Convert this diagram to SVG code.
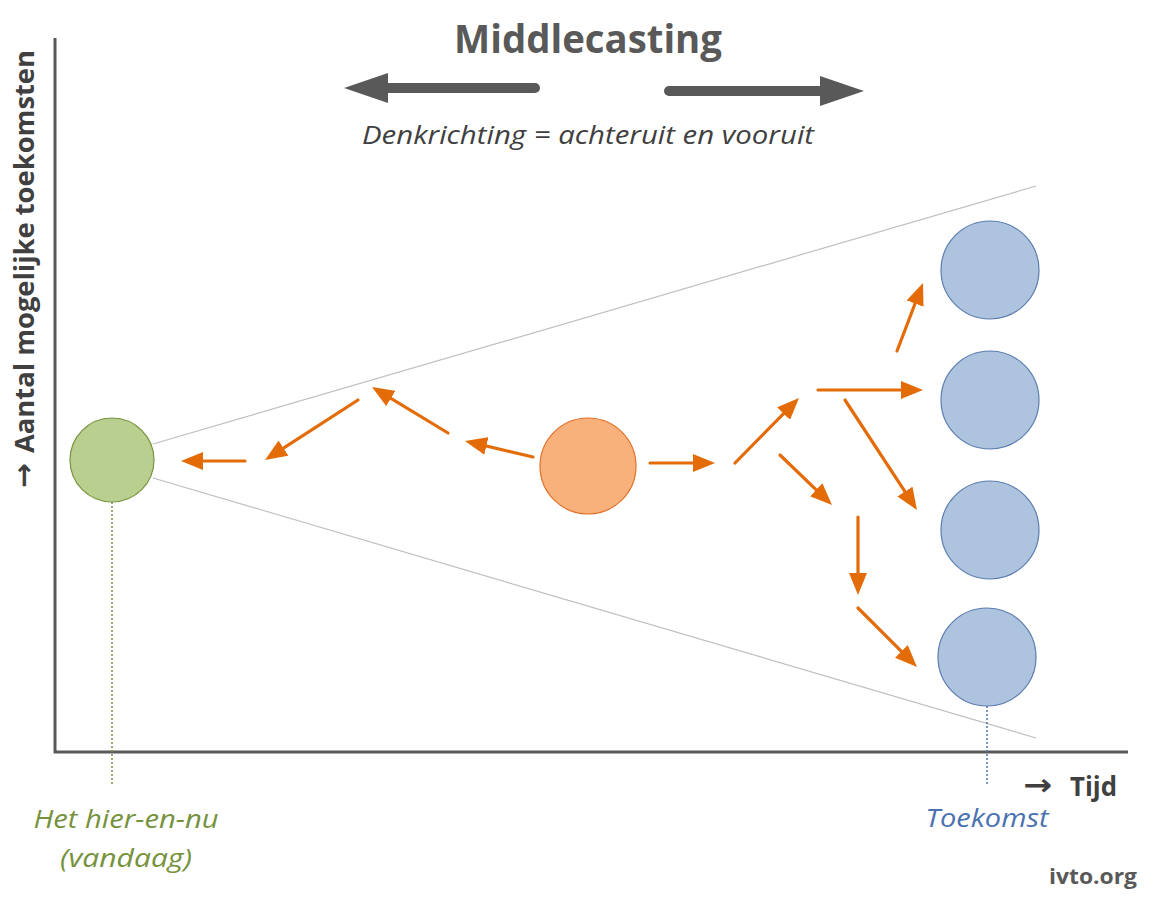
<svg xmlns="http://www.w3.org/2000/svg" width="1153" height="900" viewBox="0 0 1153 900">
  <style>
    .axis { stroke: #595959; stroke-width: 3; fill: none; }
    .cone { stroke: #BFBFBF; stroke-width: 1.2; fill: none; }
    .flow { stroke: #E36C09; stroke-width: 3.2; stroke-linecap: round; fill: none; marker-end: url(#head); }
    .dir { stroke: #595959; stroke-width: 10; stroke-linecap: round; fill: none; }
    .txt { font-family: "Open Sans", "Noto Sans", sans-serif; }
    .arr { font-family: "DejaVu Sans", sans-serif; font-weight: bold; }
    .now { fill: #B9CF8F; stroke: #77933C; stroke-width: 1.2; }
    .mid { fill: #F9B17B; stroke: #E0702A; stroke-width: 1.2; }
    .fut { fill: #AEC3DD; stroke: #5B7DB2; stroke-width: 1.2; }
  </style>
  <defs>
    <marker id="head" markerUnits="userSpaceOnUse" markerWidth="22" markerHeight="18" refX="12" refY="9" orient="auto">
      <path d="M0,0 L22,9 L0,18 z" fill="#E36C09"/>
    </marker>
  </defs>

  <rect width="1153" height="900" fill="#FFFFFF"/>

  <!-- title and thinking direction -->
  <g id="title">
    <text class="txt" x="588" y="53" text-anchor="middle" font-size="40" font-weight="bold" fill="#595959" textLength="268" lengthAdjust="spacingAndGlyphs">Middlecasting</text>
    <line class="dir" x1="535" y1="88" x2="385" y2="88"/>
    <polygon points="344,88 388,73 388,103" fill="#595959"/>
    <line class="dir" x1="669" y1="91" x2="822" y2="91"/>
    <polygon points="864,91 820,76 820,106" fill="#595959"/>
    <text class="txt" x="588" y="144" text-anchor="middle" font-size="25" font-style="italic" fill="#404040" textLength="452" lengthAdjust="spacingAndGlyphs">Denkrichting = achteruit en vooruit</text>
  </g>

  <!-- axes -->
  <g id="axes">
    <polyline class="axis" points="55,38 55,752 1128,752"/>
    <g transform="translate(34,488) rotate(-90)">
      <text class="arr" x="0" y="-1" font-size="28" fill="#404040" textLength="25" lengthAdjust="spacingAndGlyphs">→</text>
      <text class="txt" x="35" y="0" font-size="26" font-weight="bold" fill="#404040" textLength="403" lengthAdjust="spacingAndGlyphs">Aantal mogelijke toekomsten</text>
    </g>
    <text class="arr" x="1023" y="795" font-size="30" fill="#404040" textLength="29" lengthAdjust="spacingAndGlyphs">→</text>
    <text class="txt" x="1070" y="796" font-size="26" font-weight="bold" fill="#404040" textLength="47" lengthAdjust="spacingAndGlyphs">Tijd</text>
  </g>

  <!-- cone of possible futures -->
  <g id="cone">
    <line class="cone" x1="153" y1="444" x2="1036" y2="186"/>
    <line class="cone" x1="153" y1="478" x2="1036" y2="738"/>
  </g>

  <!-- present -->
  <g id="node-now">
    <line x1="112" y1="502" x2="112" y2="786" stroke="#77933C" stroke-width="1.5" stroke-dasharray="2,2"/>
    <circle class="now" cx="112" cy="460" r="42"/>
    <text class="txt" x="126" y="828" text-anchor="middle" font-size="25" font-style="italic" fill="#76923C" textLength="185" lengthAdjust="spacingAndGlyphs">Het hier-en-nu</text>
    <text class="txt" x="126" y="867" text-anchor="middle" font-size="25" font-style="italic" fill="#76923C" textLength="132" lengthAdjust="spacingAndGlyphs">(vandaag)</text>
  </g>

  <!-- middle point -->
  <g id="node-middle">
    <circle class="mid" cx="588" cy="466" r="48"/>
  </g>

  <!-- futures -->
  <g id="node-future-1"><circle class="fut" cx="990" cy="270" r="49"/></g>
  <g id="node-future-2"><circle class="fut" cx="990" cy="400" r="49"/></g>
  <g id="node-future-3"><circle class="fut" cx="990" cy="530" r="49"/></g>
  <g id="node-future-4">
    <line x1="987" y1="706" x2="987" y2="786" stroke="#4F73B0" stroke-width="1.5" stroke-dasharray="2,2"/>
    <circle class="fut" cx="987" cy="657" r="49"/>
    <text class="txt" x="987" y="827" text-anchor="middle" font-size="25" font-style="italic" fill="#4A72B0" textLength="123" lengthAdjust="spacingAndGlyphs">Toekomst</text>
  </g>

  <!-- connectors -->
  <g id="connectors">
    <line class="flow" x1="533" y1="457" x2="474.7" y2="443.3"/>
    <line class="flow" x1="448" y1="433" x2="380.6" y2="392.2"/>
    <line class="flow" x1="358" y1="400" x2="273.4" y2="454.6"/>
    <line class="flow" x1="245" y1="461" x2="191" y2="461"/>
    <line class="flow" x1="650" y1="463" x2="705" y2="463"/>
    <line class="flow" x1="735" y1="463" x2="792" y2="405.1"/>
    <line class="flow" x1="780" y1="455" x2="824.8" y2="498.1"/>
    <line class="flow" x1="818" y1="390" x2="913" y2="390"/>
    <line class="flow" x1="897" y1="351" x2="919.4" y2="292.3"/>
    <line class="flow" x1="845" y1="400" x2="911.5" y2="501.6"/>
    <line class="flow" x1="858" y1="517" x2="858" y2="585"/>
    <line class="flow" x1="858" y1="608" x2="909.9" y2="659.9"/>
  </g>

  <text class="txt" x="1137" y="884" text-anchor="end" font-size="22" font-weight="bold" fill="#595959" textLength="88" lengthAdjust="spacingAndGlyphs">ivto.org</text>
</svg>
